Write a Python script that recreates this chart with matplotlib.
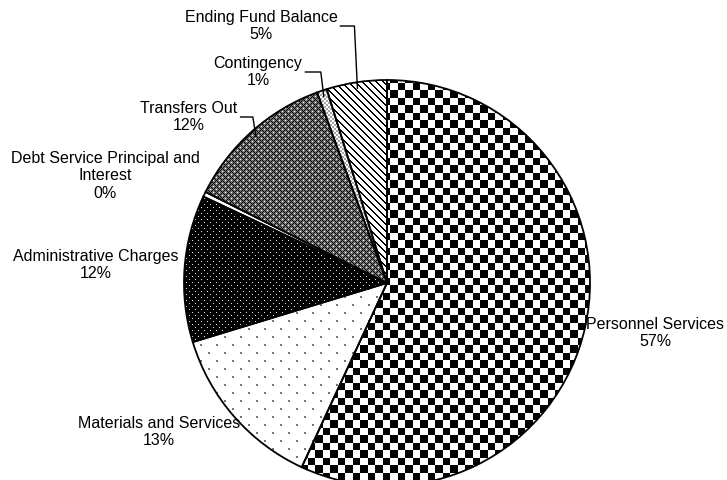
import numpy as np
import matplotlib.pyplot as plt

# ---- data ----
categories = ["Personnel Services", "Materials and Services", "Administrative Charges",
              "Debt Service Principal and\nInterest", "Transfers Out", "Contingency",
              "Ending Fund Balance"]
shares = [56.9, 13.4, 11.7, 0.4, 12.0, 0.8, 4.8]

# label block centres in pixels (x, y from top) and whether a leader line is drawn
label_pos = [(655, 333), (159, 432), (96, 265), (105, 176), (189, 117), (258, 72), (261, 26)]
has_leader = [False, False, False, False, True, True, True]

W, H = 727, 480
cx, cy, R = 387, H - 283, 203

# ---- fill patterns (pixel grids, 0=black 1=white) ----
yy, xx = np.indices((H, W))

def checker():
    return ((np.floor(xx / 7.5) + np.floor(yy / 7.5)) % 2).astype(float)

def sparse_dots():
    img = np.ones((H, W))
    m = ((yy % 8) < 2) & (((xx + 8 * ((yy // 8) % 2)) % 16) < 2)
    img[m] = 0.45
    return img

def white_dots():
    img = np.zeros((H, W))
    m = (((yy % 6) == 0) & ((xx % 6) == 0)) | (((yy % 6) == 3) & ((xx % 6) == 3))
    img[m] = 0.9
    return img

def plain():
    return np.ones((H, W))

def diamonds():
    img = np.full((H, W), 0.45)
    img[((xx + yy) % 6 == 0) | ((xx - yy) % 6 == 0)] = 0.0
    img[((xx % 6 == 3) & (yy % 6 == 0)) | ((xx % 6 == 0) & (yy % 6 == 3))] = 1.0
    return img

def light_grid():
    return 1.0 - 0.35 * (((xx // 2) + (yy // 2)) % 2)

def stripes():
    return np.where((xx - yy) % 7 < 2, 0.0, 1.0)

patterns = [checker, sparse_dots, white_dots, plain, diamonds, light_grid, stripes]

# ---- figure ----
fig = plt.figure(figsize=(7.27, 4.8), dpi=100)
ax = fig.add_axes([0, 0, 1, 1])

wedges, _ = ax.pie(shares, startangle=90, counterclock=False, radius=R, center=(cx, cy),
                   colors=["white"] * len(shares),
                   wedgeprops=dict(edgecolor="black", linewidth=1.3))

for w, pat in zip(wedges, patterns):
    im = ax.imshow(pat(), cmap="gray", vmin=0, vmax=1, extent=(0, W, 0, H),
                   interpolation="nearest", zorder=2)
    im.set_clip_path(w)
    w.set_zorder(3)
    w.set_facecolor("none")

ax.set_xlim(0, W)
ax.set_ylim(0, H)
ax.set_aspect("auto")
ax.axis("off")

renderer = fig.canvas.get_renderer()
for w, name, s, (lx, ly), lead in zip(wedges, categories, shares, label_pos, has_leader):
    t = ax.text(lx, H - ly, f"{name}\n{round(s)}%", ha="center", va="center",
                fontsize=11.5, family="Liberation Sans", linespacing=1.2, zorder=5)
    if lead:
        mid = np.deg2rad((w.theta1 + w.theta2) / 2)
        px, py = cx + 0.97 * R * np.cos(mid), cy + 0.97 * R * np.sin(mid)
        x0 = t.get_window_extent(renderer).x1 + 3
        ax.plot([x0, px - 3, px], [H - ly, H - ly, py], color="black", lw=1.0, zorder=4)

fig.savefig("out.png", dpi=100)
